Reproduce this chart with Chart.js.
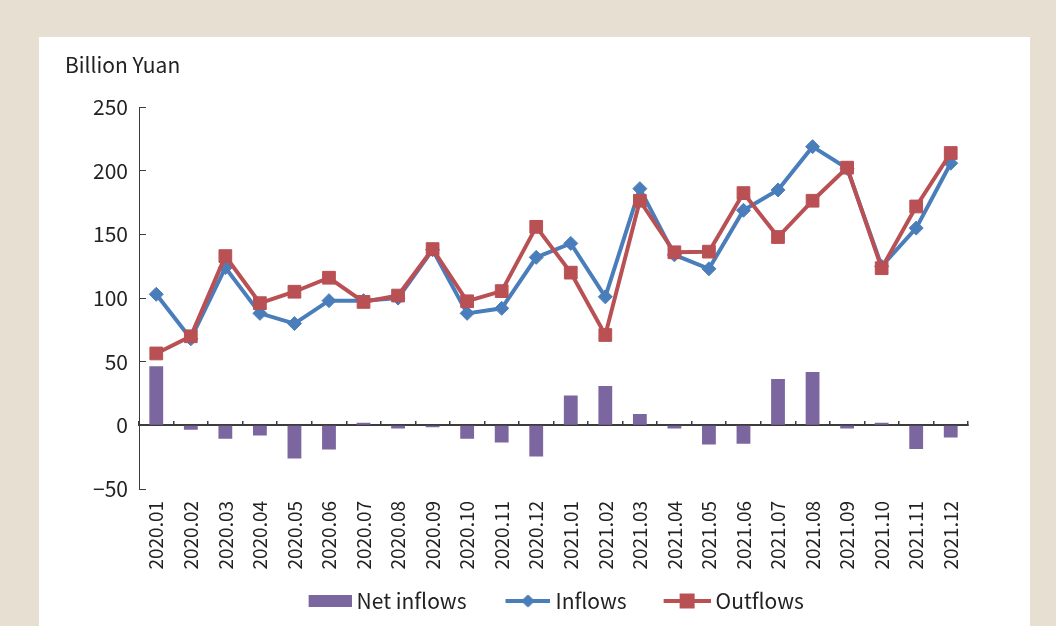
<!DOCTYPE html>
<html>
<head>
<meta charset="utf-8">
<script src="https://cdn.jsdelivr.net/npm/chart.js@4/dist/chart.umd.min.js"></script>
<style>
  html, body { margin: 0; padding: 0; }
  body { width: 1056px; height: 626px; background: #e8dfd3; position: relative; overflow: hidden; }
  #panel { position: absolute; left: 39px; top: 37px; width: 991px; height: 589px; background: #fff; }
  #chart { display: block; }
</style>
</head>
<body>
<div id="panel"><canvas id="chart" width="991" height="589"></canvas></div>
<script>
// months on the x axis
const months = [
  "2020.01", "2020.02", "2020.03", "2020.04", "2020.05", "2020.06",
  "2020.07", "2020.08", "2020.09", "2020.10", "2020.11", "2020.12",
  "2021.01", "2021.02", "2021.03", "2021.04", "2021.05", "2021.06",
  "2021.07", "2021.08", "2021.09", "2021.10", "2021.11", "2021.12"
];
// billion yuan
const netInflows = [46.5, -3.5, -10.5, -8, -26, -19, 2, -2.5, -1.5, -10.5, -13.5, -24.5,
  23.5, 31, 9, -2.5, -15, -14.5, 36.5, 42, -2.5, 2, -18.5, -9.5];
const inflows = [103, 68, 124, 88, 80, 98, 98, 100, 138, 88, 92, 132,
  143, 101, 186, 134, 123, 169, 185, 219, 202, 125, 155, 206];
const outflows = [56.5, 70, 133, 96, 105, 116, 97, 102, 138.5, 97.5, 105.5, 156,
  120, 71, 176.5, 136, 136.5, 182.5, 148, 176.5, 202.5, 123.5, 172, 214];
const yTicks = [-50, 0, 50, 100, 150, 200, 250];

const purple = "#7b66a0";
const blue = "#4a7ebb";
const red = "#b95054";
const axisColor = "#3c3c3c";

Chart.defaults.font.family = '"Noto Sans CJK SC", "Noto Sans", sans-serif';
Chart.defaults.color = "#222";

// legend icons: the visible part sits at the right end of a wider transparent canvas,
// so the gap before each item comes out like the original
const iconBox = 57;
function makeIcon(kind, color) {
  const vw = kind === "bar" ? 43 : (kind === "diamond" ? 45 : 47);
  const c = document.createElement("canvas");
  c.width = iconBox + 11;
  c.height = 16;
  const g = c.getContext("2d");
  g.fillStyle = color;
  g.strokeStyle = color;
  const x0 = c.width - vw;
  const m = x0 + vw / 2;
  if (kind === "bar") {
    g.fillRect(x0, 2, vw, 12);
  } else {
    g.lineWidth = 4;
    g.beginPath();
    g.moveTo(x0, 8);
    g.lineTo(c.width, 8);
    g.stroke();
    g.beginPath();
    if (kind === "diamond") {
      g.moveTo(m, 1.5); g.lineTo(m + 7, 8); g.lineTo(m, 14.5); g.lineTo(m - 7, 8);
    } else {
      g.rect(m - 7.5, 0.5, 15, 15);
    }
    g.closePath();
    g.fill();
  }
  return c;
}
const legendIcons = [makeIcon("bar", purple), makeIcon("diamond", blue), makeIcon("square", red)];

// nudge the legend a little left of the plot centre, as in the original
const legendShift = {
  id: "legendShift",
  afterLayout(chart) {
    chart.legend.left -= 7;
    chart.legend.right -= 7;
  }
};

new Chart(document.getElementById("chart"), {
  type: "bar",
  data: {
    labels: months,
    datasets: [
      {
        label: "Net inflows",
        data: netInflows,
        backgroundColor: purple,
        barPercentage: 0.4,
        categoryPercentage: 1,
        order: 3
      },
      {
        type: "line",
        label: "Inflows",
        data: inflows,
        borderColor: blue,
        backgroundColor: blue,
        borderWidth: 4,
        tension: 0,
        pointStyle: "rectRot",
        pointRadius: 7,
        pointBorderWidth: 1,
        order: 2
      },
      {
        type: "line",
        label: "Outflows",
        data: outflows,
        borderColor: red,
        backgroundColor: red,
        borderWidth: 4,
        tension: 0,
        pointStyle: "rect",
        pointRadius: 9,
        pointBorderWidth: 1,
        order: 1
      }
    ]
  },
  plugins: [legendShift],
  options: {
    responsive: false,
    animation: false,
    events: [],
    layout: { padding: { left: 26, right: 62, top: 15, bottom: 4.5 } },
    scales: {
      y: {
        min: -50,
        max: 250,
        afterBuildTicks: (s) => { s.ticks = yTicks.map((v) => ({ value: v })); },
        afterFit: (s) => { s.width = 74; },
        ticks: {
          padding: 18,
          font: { size: 21 },
          color: "#222",
          callback: (v) => String(v).replace("-", "\u2212")
        },
        grid: { drawOnChartArea: false, drawTicks: true, tickLength: -7, color: axisColor },
        border: { display: true, color: axisColor, width: 1 }
      },
      x: {
        type: "category",
        position: { y: 0 },
        offset: true,
        ticks: { display: false },
        grid: { offset: true, drawOnChartArea: false, drawTicks: true, tickLength: -5, color: axisColor, lineWidth: 1.5 },
        border: { display: true, color: axisColor, width: 2 }
      },
      x2: {
        type: "category",
        position: "bottom",
        labels: months,
        offset: true,
        afterFit: (s) => { s.height = 80; },
        ticks: { minRotation: 90, maxRotation: 90, autoSkip: false, padding: 4, font: { size: 19 }, color: "#222" },
        grid: { display: false },
        border: { display: false }
      }
    },
    plugins: {
      title: {
        display: true,
        text: "Billion Yuan",
        align: "start",
        color: "#222",
        font: { size: 21, weight: "normal" },
        padding: { top: 0, bottom: 30 }
      },
      legend: {
        position: "bottom",
        fullSize: false,
        labels: {
          usePointStyle: true,
          pointStyleWidth: iconBox,
          padding: 21.5,
          color: "#222",
          font: { size: 21 },
          sort: (a, b) => a.datasetIndex - b.datasetIndex,
          generateLabels(chart) {
            const items = Chart.defaults.plugins.legend.labels.generateLabels(chart);
            items.forEach((it) => { it.pointStyle = legendIcons[it.datasetIndex]; });
            return items;
          }
        }
      },
      tooltip: { enabled: false }
    }
  }
});
</script>
</body>
</html>
